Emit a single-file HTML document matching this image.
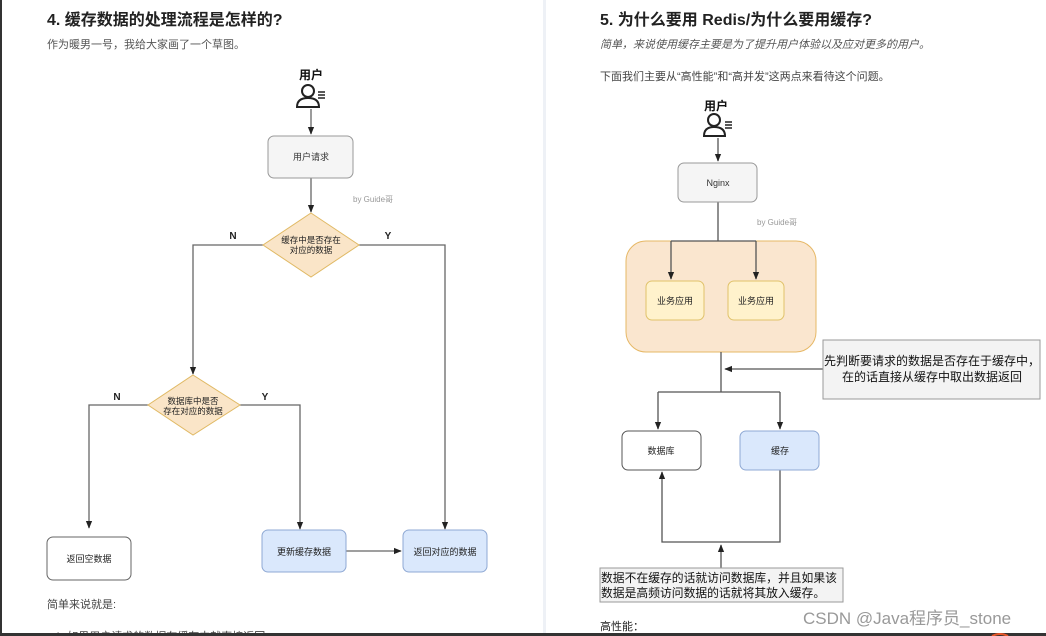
<!DOCTYPE html>
<html><head><meta charset="utf-8"><style>
html,body{margin:0;padding:0;background:#fff;}
svg{display:block;}
text{font-family:"Liberation Sans","Noto Sans CJK SC",sans-serif;}
</style></head><body>
<svg width="1046" height="636" viewBox="0 0 1046 636" xmlns="http://www.w3.org/2000/svg">
<defs>
<marker id="a" viewBox="0 0 10 10" refX="9" refY="5" markerWidth="6" markerHeight="6" orient="auto"><path d="M0,1 L10,5 L0,9 z" fill="#222"/></marker>
</defs>
<rect width="1046" height="636" fill="#fff"/>
<rect x="0" y="0" width="2" height="636" fill="#333"/>
<rect x="543" y="0" width="3" height="636" fill="#eef1f6"/>

<!-- LEFT PAGE -->
<text x="47" y="25" font-size="16" font-weight="bold" fill="#222">4. 缓存数据的处理流程是怎样的?</text>
<text x="47" y="48" font-size="11" fill="#555">作为暖男一号，我给大家画了一个草图。</text>

<text x="311" y="79" font-size="12" font-weight="bold" text-anchor="middle" fill="#111">用户</text>
<g fill="none" stroke="#222" stroke-width="2">
<circle cx="308" cy="91" r="6"/>
<path d="M297,107 q0,-9 11,-9 q11,0 11,9 z"/>
<path d="M318,92 h7 M318,95 h7 M318,98 h7" stroke-width="1.5"/>
</g>
<g stroke="#666" stroke-width="1.3" fill="none">
<line x1="311" y1="109" x2="311" y2="134" marker-end="url(#a)"/>
<line x1="311" y1="178" x2="311" y2="212" marker-end="url(#a)"/>
<polyline points="263,245 193,245 193,374" marker-end="url(#a)"/>
<polyline points="359,245 445,245 445,529" marker-end="url(#a)"/>
<polyline points="148,405 89,405 89,528" marker-end="url(#a)"/>
<polyline points="240,405 300,405 300,529" marker-end="url(#a)"/>
<line x1="346" y1="551" x2="401" y2="551" marker-end="url(#a)"/>
</g>
<rect x="268" y="136" width="85" height="42" rx="6" fill="#f5f5f5" stroke="#999"/>
<text x="311" y="160" font-size="9" text-anchor="middle" fill="#333">用户请求</text>
<text x="353" y="202" font-size="8" fill="#999">by Guide哥</text>

<polygon points="311,213 359,245 311,277 263,245" fill="#fae5c8" stroke="#e0b964"/>
<text x="311" y="243" font-size="8.5" text-anchor="middle" fill="#222">缓存中是否存在</text>
<text x="311" y="253" font-size="8.5" text-anchor="middle" fill="#222">对应的数据</text>
<text x="233" y="239" font-size="10" font-weight="bold" text-anchor="middle" fill="#222">N</text>
<text x="388" y="239" font-size="10" font-weight="bold" text-anchor="middle" fill="#222">Y</text>

<polygon points="193,375 240,405 193,435 148,405" fill="#fae5c8" stroke="#e0b964"/>
<text x="193" y="404" font-size="8.5" text-anchor="middle" fill="#222">数据库中是否</text>
<text x="193" y="414" font-size="8.5" text-anchor="middle" fill="#222">存在对应的数据</text>
<text x="117" y="400" font-size="10" font-weight="bold" text-anchor="middle" fill="#222">N</text>
<text x="265" y="400" font-size="10" font-weight="bold" text-anchor="middle" fill="#222">Y</text>

<rect x="47" y="537" width="84" height="43" rx="6" fill="#fff" stroke="#666"/>
<text x="89" y="562" font-size="9" text-anchor="middle" fill="#222">返回空数据</text>
<rect x="262" y="530" width="84" height="42" rx="6" fill="#dae8fc" stroke="#8fa9d4"/>
<text x="304" y="555" font-size="9" text-anchor="middle" fill="#222">更新缓存数据</text>
<rect x="403" y="530" width="84" height="42" rx="6" fill="#dae8fc" stroke="#8fa9d4"/>
<text x="445" y="555" font-size="9" text-anchor="middle" fill="#222">返回对应的数据</text>

<text x="47" y="608" font-size="11" fill="#444">简单来说就是:</text>
<text x="55" y="640" font-size="11" fill="#444">1.  如果用户请求的数据在缓存中就直接返回</text>

<!-- RIGHT PAGE -->
<text x="600" y="25" font-size="16" font-weight="bold" fill="#222">5. 为什么要用 Redis/为什么要用缓存?</text>
<text x="600" y="48" font-size="11" font-style="italic" fill="#555">简单，来说使用缓存主要是为了提升用户体验以及应对更多的用户。</text>
<text x="600" y="80" font-size="11" fill="#444">下面我们主要从“高性能”和“高并发”这两点来看待这个问题。</text>

<text x="716" y="110" font-size="12" font-weight="bold" text-anchor="middle" fill="#111">用户</text>
<g fill="none" stroke="#222" stroke-width="2">
<circle cx="714" cy="120" r="6"/>
<path d="M704,136 q0,-9 10,-9 q11,0 11,9 z"/>
<path d="M725,122 h7 M725,125 h7 M725,128 h7" stroke-width="1.5"/>
</g>
<rect x="626" y="241" width="190" height="111" rx="20" fill="#fae6cf" stroke="#e6b866"/>
<g stroke="#555" stroke-width="1.3" fill="none">
<line x1="718" y1="138" x2="718" y2="161" marker-end="url(#a)"/>
<line x1="718" y1="202" x2="718" y2="241"/>
<line x1="671" y1="241" x2="756" y2="241"/>
<line x1="671" y1="241" x2="671" y2="279" marker-end="url(#a)"/>
<line x1="756" y1="241" x2="756" y2="279" marker-end="url(#a)"/>
<line x1="721" y1="352" x2="721" y2="392"/>
<polyline points="658,392 780,392"/>
<line x1="658" y1="392" x2="658" y2="429" marker-end="url(#a)"/>
<line x1="780" y1="392" x2="780" y2="429" marker-end="url(#a)"/>
<line x1="823" y1="369" x2="725" y2="369" marker-end="url(#a)"/>
<polyline points="780,470 780,542 662,542 662,472" marker-end="url(#a)"/>
<line x1="721" y1="568" x2="721" y2="545" marker-end="url(#a)"/>
</g>
<rect x="678" y="163" width="79" height="39" rx="6" fill="#f5f5f5" stroke="#999"/>
<text x="718" y="186" font-size="9" text-anchor="middle" fill="#333">Nginx</text>
<text x="757" y="225" font-size="8" fill="#999">by Guide哥</text>
<rect x="646" y="281" width="58" height="39" rx="6" fill="#fff2cc" stroke="#e0c26a"/>
<text x="675" y="304" font-size="9" text-anchor="middle" fill="#222">业务应用</text>
<rect x="728" y="281" width="56" height="39" rx="6" fill="#fff2cc" stroke="#e0c26a"/>
<text x="756" y="304" font-size="9" text-anchor="middle" fill="#222">业务应用</text>

<rect x="823" y="340" width="217" height="59" fill="#f3f3f3" stroke="#999"/>
<text x="932" y="365" font-size="12" text-anchor="middle" fill="#111">先判断要请求的数据是否存在于缓存中，</text>
<text x="932" y="381" font-size="12" text-anchor="middle" fill="#111">在的话直接从缓存中取出数据返回</text>

<rect x="622" y="431" width="79" height="39" rx="6" fill="#fff" stroke="#555"/>
<text x="661" y="454" font-size="9" text-anchor="middle" fill="#222">数据库</text>
<rect x="740" y="431" width="79" height="39" rx="6" fill="#dae8fc" stroke="#8fa9d4"/>
<text x="780" y="454" font-size="9" text-anchor="middle" fill="#222">缓存</text>

<rect x="600" y="568" width="243" height="34" fill="#f3f3f3" stroke="#999"/>
<text x="601" y="582" font-size="11.8" fill="#111">数据不在缓存的话就访问数据库，并且如果该</text>
<text x="601" y="597" font-size="11.8" fill="#111">数据是高频访问数据的话就将其放入缓存。</text>

<text x="600" y="630" font-size="11" fill="#222">高性能：</text>
<text x="803" y="624" font-size="17" fill="#999">CSDN @Java程序员_stone</text>

<rect x="0" y="633" width="1046" height="3" fill="#333"/>
<path d="M992,636 q8,-4 16,0" stroke="#e8572a" stroke-width="2" fill="none"/>
</svg>
</body></html>
